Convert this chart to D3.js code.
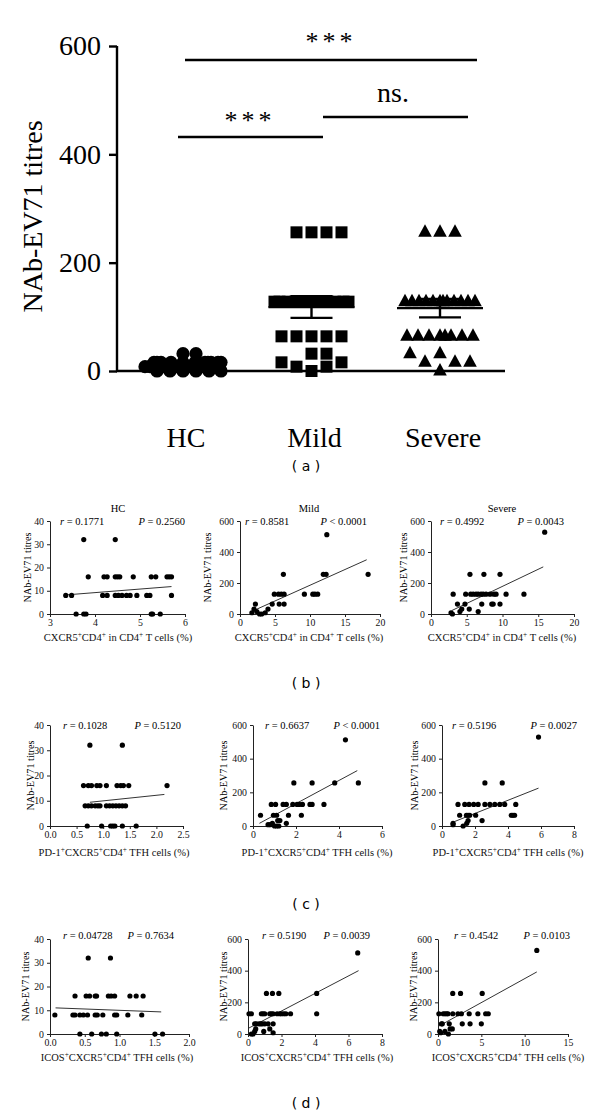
<!DOCTYPE html>
<html><head><meta charset="utf-8">
<script src="https://cdn.jsdelivr.net/npm/d3@7/dist/d3.min.js"></script>
<style>body{margin:0;background:#fff}</style>
</head><body>
<svg id="c" width="600" height="1117" xmlns="http://www.w3.org/2000/svg"></svg>
<script>
// ---------- DATA: panel (a) ----------
const groups = ["HC", "Mild", "Severe"];
const aTicks = [0, 200, 400, 600];
const hcTitres = [32,32,16,16,16,16,16,16,16,16,16,16,16,16,8,8,8,8,8,8,8,8,8,8,8,8,8,0,0,0,0,0,0];
const mildTitres = [256,256,256,256,128,128,128,128,128,128,128,128,128,128,128,64,64,64,64,64,32,32,16,16,8,8,0];
const severeTitres = [256,256,256,128,128,128,128,128,128,128,128,128,128,128,128,64,64,64,64,64,64,64,64,32,32,16,16,16,0];
const groupMeans = [9, 118, 116];
const groupSEM = [2, 20, 17];
const sigLabels = ["***", "***", "ns."];

// ---------- DATA: scatter panels ----------
const rLabels = ["0.1771","0.8581","0.4992","0.1028","0.6637","0.5196","0.04728","0.5190","0.4542"];
const pLabels = ["= 0.2560","< 0.0001","= 0.0043","= 0.5120","< 0.0001","= 0.0027","= 0.7634","= 0.0039","= 0.0103"];
const rowTitles = ["HC", "Mild", "Severe"];
const xTitles = ["CXCR5^+CD4^+ in CD4^+ T cells (%)", "PD-1^+CXCR5^+CD4^+  TFH cells (%)", "ICOS^+CXCR5^+CD4^+  TFH cells (%)"];
const yTitle = "NAb-EV71 titres";
const hcYTicks = [0, 10, 20, 30, 40];
const ptYTicks = [0, 200, 400, 600];
const bLxTicks = [3, 4, 5, 6];
const bMxTicks = [0, 5, 10, 15, 20];
const bRxTicks = [0, 5, 10, 15, 20];
const cLxTicks = [0, 0.5, 1, 1.5, 2, 2.5];
const cMxTicks = [0, 2, 4, 6];
const cRxTicks = [0, 2, 4, 6, 8];
const dLxTicks = [0, 0.5, 1, 1.5, 2];
const dMxTicks = [0, 2, 4, 6, 8];
const dRxTicks = [0, 5, 10, 15];

const b_hc_x = [3.75,4.45, 3.85,4.2,4.27,4.45,4.5,4.55,4.85,5.25,5.35,5.6,5.65,5.7, 3.35,3.48,4.17,4.27,4.45,4.52,4.6,4.7,4.78,4.93,5.15,5.22,5.7, 3.58,3.75,3.8,5.25,5.28,5.45];
const b_hc_y = [32,32, 16,16,16,16,16,16,16,16,16,16,16,16, 8,8,8,8,8,8,8,8,8,8,8,8,8, 0,0,0,0,0,0];
const b_hc_fit = [3.35, 8.2, 5.7, 11.8];

const b_mild_x = [12.4, 6.2,11.9,12.3,18.3, 4.9,5.5,5.9,6.3,9.2,10.4,10.7,11.1, 2.2,4.6,5.6,6.3, 2.0,4.0, 2.4, 1.7,3.6, 2.8,3.1];
const b_mild_y = [512, 256,256,256,256, 128,128,128,128,128,128,128,128, 64,64,64,64, 32,32, 16, 8,8, 0,0];
const b_mild_fit = [1.7, 17, 18.1, 350];

const b_sev_x = [15.9, 5.45,7.4,9.65, 3.1,4.85,5.55,5.9,6.3,6.6,7.0,7.3,7.7,8.25,8.8,9.1,10.5,13.0, 3.7,4.75,7.1,8.5,8.7,9.65, 4.3,5.35, 4.05,6.6, 2.8, 3.0];
const b_sev_y = [528, 256,256,256, 128,128,128,128,128,128,128,128,128,128,128,128,128,128, 64,64,64,64,64,64, 32,32, 16,16, 8, 0];
const b_sev_fit = [2.9, 22, 15.7, 304];

const c_hc_x = [0.75,1.36, 0.63,0.72,0.78,0.88,0.94,1.06,1.26,1.33,1.38,1.48,2.2, 0.66,0.72,0.78,0.85,0.9,0.94,1.06,1.12,1.18,1.24,1.3,1.36,1.42, 0.7,0.97,1.14,1.18,1.22,1.36,1.62];
const c_hc_y = [32,32, 16,16,16,16,16,16,16,16,16,16,16, 8,8,8,8,8,8,8,8,8,8,8,8,8, 0,0,0,0,0,0,0];
const c_hc_fit = [0.75, 9.4, 2.15, 12.5];

const c_mild_x = [4.3, 1.9,2.75,3.8,4.9, 0.85,1.05,1.4,1.55,1.85,2.05,2.15,2.3,2.65,2.75,3.3, 0.35,0.95,1.1,1.65,2.25, 1.15,1.25, 0.9,1.55, 0.7,0.8, 1.0,1.1,1.2];
const c_mild_y = [512, 256,256,256,256, 128,128,128,128,128,128,128,128,128,128,128, 64,64,64,64,64, 32,32, 16,16, 8,8, 0,0,0];
const c_mild_fit = [0.3, 16, 4.85, 329];

const c_sev_x = [5.85, 2.6,3.65, 0.97,1.38,1.64,1.92,2.19,2.6,2.9,3.2,3.5,3.8,4.47, 1.07,1.48,1.58,1.68,2.04,4.2,4.3,4.4, 1.58,2.43, 0.67,1.5, 0.67, 1.28];
const c_sev_y = [528, 256,256, 128,128,128,128,128,128,128,128,128,128,128, 64,64,64,64,64,64,64,64, 32,32, 16,16, 8, 0];
const c_sev_fit = [0.75, 26, 5.85, 225];

const d_hc_x = [0.55,0.87, 0.36,0.52,0.57,0.65,0.67,0.84,0.88,0.93,1.15,1.24,1.34, 0.07,0.33,0.36,0.43,0.48,0.54,0.65,0.68,0.76,0.93,0.96,1.12,1.32, 0.43,0.6,0.74,0.81,0.96,1.51,1.62];
const d_hc_y = [32,32, 16,16,16,16,16,16,16,16,16,16,16, 8,8,8,8,8,8,8,8,8,8,8,8,8, 0,0,0,0,0,0,0];
const d_hc_fit = [0.08, 11, 1.6, 9.3];

const d_mild_x = [6.55, 1.1,1.46,1.84,4.1, 0.06,0.2,0.8,0.9,1.0,1.3,1.4,1.5,1.74,1.9,2.0,2.14,2.26,2.54,4.1, 0.4,0.5,0.66,0.76,0.86,1.0,1.2,1.5, 0.46,1.3, 0.4,0.94, 1.5, 0.2,0.3];
const d_mild_y = [512, 256,256,256,256, 128,128,128,128,128,128,128,128,128,128,128,128,128,128,128, 64,64,64,64,64,64,64,64, 32,32, 16,16, 8, 0,0];
const d_mild_fit = [0.06, 38, 6.6, 400];

const d_sev_x = [11.4, 1.7,2.6,5.1, 0.1,0.6,0.8,1.0,1.15,1.7,2.3,2.7,3.6,4.6,5.5,5.8, 0.4,0.5,1.3,2.8,3.7,5.0, 1.4,1.65, 0.2,0.8, 0.3, 1.2];
const d_sev_y = [528, 256,256,256, 128,128,128,128,128,128,128,128,128,128,128,128, 64,64,64,64,64,64, 32,32, 16,16, 8, 0];
const d_sev_fit = [0.1, 50, 11.4, 392];

// ---------- DRAWING ----------
const SERIF = "'Liberation Serif', 'Times New Roman', serif";
const svg = d3.select("#c");
svg.append("rect").attr("width", 600).attr("height", 1117).attr("fill", "#fff");

function richText(sel, str, fs) {
  const parts = str.split(/(\^\+)/);
  let raised = false;
  parts.forEach(pt => {
    if (pt === "^+") {
      sel.append("tspan").attr("dy", -fs * 0.4).attr("font-size", fs * 0.7).text("+");
      raised = true;
    } else if (pt.length) {
      const t = sel.append("tspan").text(pt);
      if (raised) { t.attr("dy", fs * 0.4); raised = false; }
    }
  });
}

// ----- panel (a) -----
const ya = d3.scaleLinear().domain([0, 600]).range([371, 46]);
const xa = d3.scalePoint().domain(groups).range([183, 440]);
const AX0 = 117, AX1 = 505;

const gA = svg.append("g");
const yAxisA = gA.append("g").attr("transform", `translate(${AX0},0)`)
  .call(d3.axisLeft(ya).tickValues(aTicks).tickSize(8).tickSizeOuter(0).tickPadding(8).tickFormat(d3.format("d")));
yAxisA.selectAll("path,line").attr("stroke", "#000").attr("stroke-width", 2.4);
yAxisA.selectAll("text").attr("font-family", SERIF).attr("font-size", 28).attr("fill", "#000");
yAxisA.select(".domain").attr("d", `M0,${ya(0)}V${ya(600)}`);

gA.append("line").attr("x1", AX0 - 1).attr("x2", AX1).attr("y1", ya(0)).attr("y2", ya(0))
  .attr("stroke", "#000").attr("stroke-width", 2.4);

gA.append("text").attr("transform", `translate(42,${(ya(0) + ya(600)) / 2 + 8}) rotate(-90)`)
  .attr("text-anchor", "middle").attr("font-family", SERIF).attr("font-size", 28).text(yTitle);

groups.forEach(g => {
  gA.append("text").attr("x", xa(g) + 3).attr("y", 447).attr("text-anchor", "middle")
    .attr("font-family", SERIF).attr("font-size", 28).text(g);
});

function swarm(values, cx, H, size, cMax, vTh) {
  const counts = d3.rollup(values, v => v.length, d => d);
  const sorted = values.slice().sort((a, b) => a - b);
  const placed = [];
  for (const v of sorted) {
    const n = counts.get(v);
    const c = n > 1 ? Math.min(cMax, 2 * H / (n - 1)) : cMax;
    const py = ya(v);
    let best = cx, bestD = -1;
    for (let k = 0; k <= 2 * H; k++) {
      const o = k === 0 ? 0 : (k % 2 === 1 ? (k + 1) / 2 : -k / 2);
      const x = cx + o;
      let minD = Infinity;
      for (const p of placed) if (Math.abs(p.y - py) < vTh) minD = Math.min(minD, Math.abs(p.x - x));
      if (minD >= c) { best = x; break; }
      if (minD > bestD) { bestD = minD; best = x; }
    }
    placed.push({ v, x: best, y: py });
  }
  return placed;
}

const groupValues = [hcTitres, mildTitres, severeTitres];
groupValues.forEach((vals, i) => {
  const cx = xa(groups[i]);
  const pts = swarm(vals, cx, i === 0 ? 38 : 37, 12, i === 0 ? 13 : 14.5, i === 0 ? 7 : 12);
  const sel = gA.append("g").selectAll("path").data(pts).enter().append("path").attr("fill", "#000");
  if (i === 0) sel.attr("d", d => d3.symbol().type(d3.symbolCircle).size(Math.PI * 6.6 * 6.6)()).attr("transform", d => `translate(${d.x},${d.y})`);
  if (i === 1) sel.attr("d", "M-6,-6H6V6H-6Z").attr("transform", d => `translate(${d.x},${d.y})`);
  if (i === 2) sel.attr("d", "M0,-8L6.8,4.5L-6.8,4.5Z").attr("transform", d => `translate(${d.x},${d.y})`);
  const m = groupMeans[i], s = groupSEM[i];
  gA.append("line").attr("x1", cx - 43).attr("x2", cx + 43).attr("y1", ya(m)).attr("y2", ya(m)).attr("stroke", "#000").attr("stroke-width", 2.4);
  gA.append("line").attr("x1", cx).attr("x2", cx).attr("y1", ya(m - s)).attr("y2", ya(m + s)).attr("stroke", "#000").attr("stroke-width", 2.4);
  [m - s, m + s].forEach(v => gA.append("line").attr("x1", cx - 21).attr("x2", cx + 21).attr("y1", ya(v)).attr("y2", ya(v)).attr("stroke", "#000").attr("stroke-width", 2.4));
});

// significance bars
const sigX = [[185, 477], [178, 323], [323, 468]];
const sigY = [60, 137, 117];
const sigTxt = [[331, 50], [250, 129], [393, 102]];
sigLabels.forEach((lab, i) => {
  gA.append("line").attr("x1", sigX[i][0]).attr("x2", sigX[i][1]).attr("y1", sigY[i]).attr("y2", sigY[i])
    .attr("stroke", "#000").attr("stroke-width", 2.3);
  const t = gA.append("text").attr("x", sigTxt[i][0]).attr("y", sigTxt[i][1]).attr("text-anchor", "middle")
    .attr("font-family", SERIF).attr("font-size", i === 2 ? 28 : 26).text(lab);
  if (i !== 2) t.attr("letter-spacing", 4);
});

// panel labels
[["( a )", 471], ["( b )", 688], ["( c )", 909], ["( d )", 1108]].forEach(([s, y]) => {
  svg.append("text").attr("x", 306).attr("y", y).attr("text-anchor", "middle")
    .attr("font-family", "'DejaVu Sans', sans-serif").attr("font-size", 14).text(s);
});

// ----- scatter panels -----
const scatterPanels = [
  { xs: b_hc_x, ys: b_hc_y, fit: b_hc_fit, xd: [3, 6], yd: [0, 40], xt: bLxTicks, yt: hcYTicks, xf: d3.format("d"), xr: [50, 185], yr: [614, 521], row: 0, col: 0, ylx: 27 },
  { xs: b_mild_x, ys: b_mild_y, fit: b_mild_fit, xd: [0, 20], yd: [0, 600], xt: bMxTicks, yt: ptYTicks, xf: d3.format("d"), xr: [240, 380], yr: [614, 521], row: 0, col: 1, ylx: 207 },
  { xs: b_sev_x, ys: b_sev_y, fit: b_sev_fit, xd: [0, 20], yd: [0, 600], xt: bRxTicks, yt: ptYTicks, xf: d3.format("d"), xr: [431, 574], yr: [614, 521], row: 0, col: 2, ylx: 403 },
  { xs: c_hc_x, ys: c_hc_y, fit: c_hc_fit, xd: [0, 2.5], yd: [0, 40], xt: cLxTicks, yt: hcYTicks, xf: d3.format(".1f"), xr: [50, 183], yr: [826, 725], row: 1, col: 0, ylx: 30 },
  { xs: c_mild_x, ys: c_mild_y, fit: c_mild_fit, xd: [0, 6], yd: [0, 600], xt: cMxTicks, yt: ptYTicks, xf: d3.format("d"), xr: [253, 382], yr: [826, 725], row: 1, col: 1, ylx: 223 },
  { xs: c_sev_x, ys: c_sev_y, fit: c_sev_fit, xd: [0, 8], yd: [0, 600], xt: cRxTicks, yt: ptYTicks, xf: d3.format("d"), xr: [442, 574], yr: [826, 725], row: 1, col: 2, ylx: 414 },
  { xs: d_hc_x, ys: d_hc_y, fit: d_hc_fit, xd: [0, 2], yd: [0, 40], xt: dLxTicks, yt: hcYTicks, xf: d3.format(".1f"), xr: [50, 189], yr: [1034, 939], row: 2, col: 0, ylx: 25 },
  { xs: d_mild_x, ys: d_mild_y, fit: d_mild_fit, xd: [0, 8], yd: [0, 600], xt: dMxTicks, yt: ptYTicks, xf: d3.format("d"), xr: [248, 382], yr: [1034, 939], row: 2, col: 1, ylx: 223 },
  { xs: d_sev_x, ys: d_sev_y, fit: d_sev_fit, xd: [0, 15], yd: [0, 600], xt: dRxTicks, yt: ptYTicks, xf: d3.format("d"), xr: [438, 568], yr: [1034, 939], row: 2, col: 2, ylx: 413 }
];
const statY = [525, 729, 939];
const rStartX = [[60, 245, 440], [63, 265, 452], [63, 262, 454]];
const pEndX = [[185, 367, 564], [181, 380, 577], [174, 370, 570]];
const xTitleY = [641, 856, 1061];
const xTitleX = [[118, 309, 502], [114, 317, 508], [117, 317, 508]];

scatterPanels.forEach((p, i) => {
  const x = d3.scaleLinear().domain(p.xd).range(p.xr);
  const y = d3.scaleLinear().domain(p.yd).range(p.yr);
  const g = svg.append("g");
  const xAx = g.append("g").attr("transform", `translate(0,${p.yr[0]})`)
    .call(d3.axisBottom(x).tickValues(p.xt).tickSize(3).tickSizeOuter(0).tickPadding(2).tickFormat(p.xf));
  const yAx = g.append("g").attr("transform", `translate(${p.xr[0]},0)`)
    .call(d3.axisLeft(y).tickValues(p.yt).tickSize(3).tickSizeOuter(0).tickPadding(3).tickFormat(d3.format("d")));
  [xAx, yAx].forEach(a => {
    a.selectAll("path,line").attr("stroke", "#222").attr("stroke-width", 1);
    a.selectAll("text").attr("font-family", SERIF).attr("font-size", 9.8).attr("fill", "#111");
  });
  g.append("line").attr("x1", x(p.fit[0])).attr("y1", y(p.fit[1])).attr("x2", x(p.fit[2])).attr("y2", y(p.fit[3]))
    .attr("stroke", "#333").attr("stroke-width", 1);
  g.append("g").selectAll("circle").data(p.xs.map((v, k) => [v, p.ys[k]])).enter().append("circle")
    .attr("cx", d => x(d[0])).attr("cy", d => y(d[1])).attr("r", 2.6).attr("fill", "#000");
  const rt = g.append("text").attr("x", rStartX[p.row][p.col]).attr("y", statY[p.row])
    .attr("font-family", SERIF).attr("font-size", 10.5);
  rt.append("tspan").attr("font-style", "italic").text("r");
  rt.append("tspan").text(" = " + rLabels[i]);
  const pt = g.append("text").attr("x", pEndX[p.row][p.col]).attr("y", statY[p.row]).attr("text-anchor", "end")
    .attr("font-family", SERIF).attr("font-size", 10.5);
  pt.append("tspan").attr("font-style", "italic").text("P");
  pt.append("tspan").text(" " + pLabels[i]);
  if (p.row === 0) {
    g.append("text").attr("x", xTitleX[0][p.col]).attr("y", 512).attr("text-anchor", "middle")
      .attr("font-family", SERIF).attr("font-size", 10.5).text(rowTitles[p.col]);
  }
  const xt = g.append("text").attr("x", xTitleX[p.row][p.col]).attr("y", xTitleY[p.row]).attr("text-anchor", "middle")
    .attr("font-family", SERIF).attr("font-size", 10.5).attr("fill", "#111");
  richText(xt, xTitles[p.row], 10.5);
  g.append("text").attr("transform", `translate(${p.ylx},${(p.yr[0] + p.yr[1]) / 2}) rotate(-90)`)
    .attr("text-anchor", "middle").attr("dy", "0.35em").attr("font-family", SERIF).attr("font-size", 10.2).text(yTitle);
});
</script>
</body></html>
